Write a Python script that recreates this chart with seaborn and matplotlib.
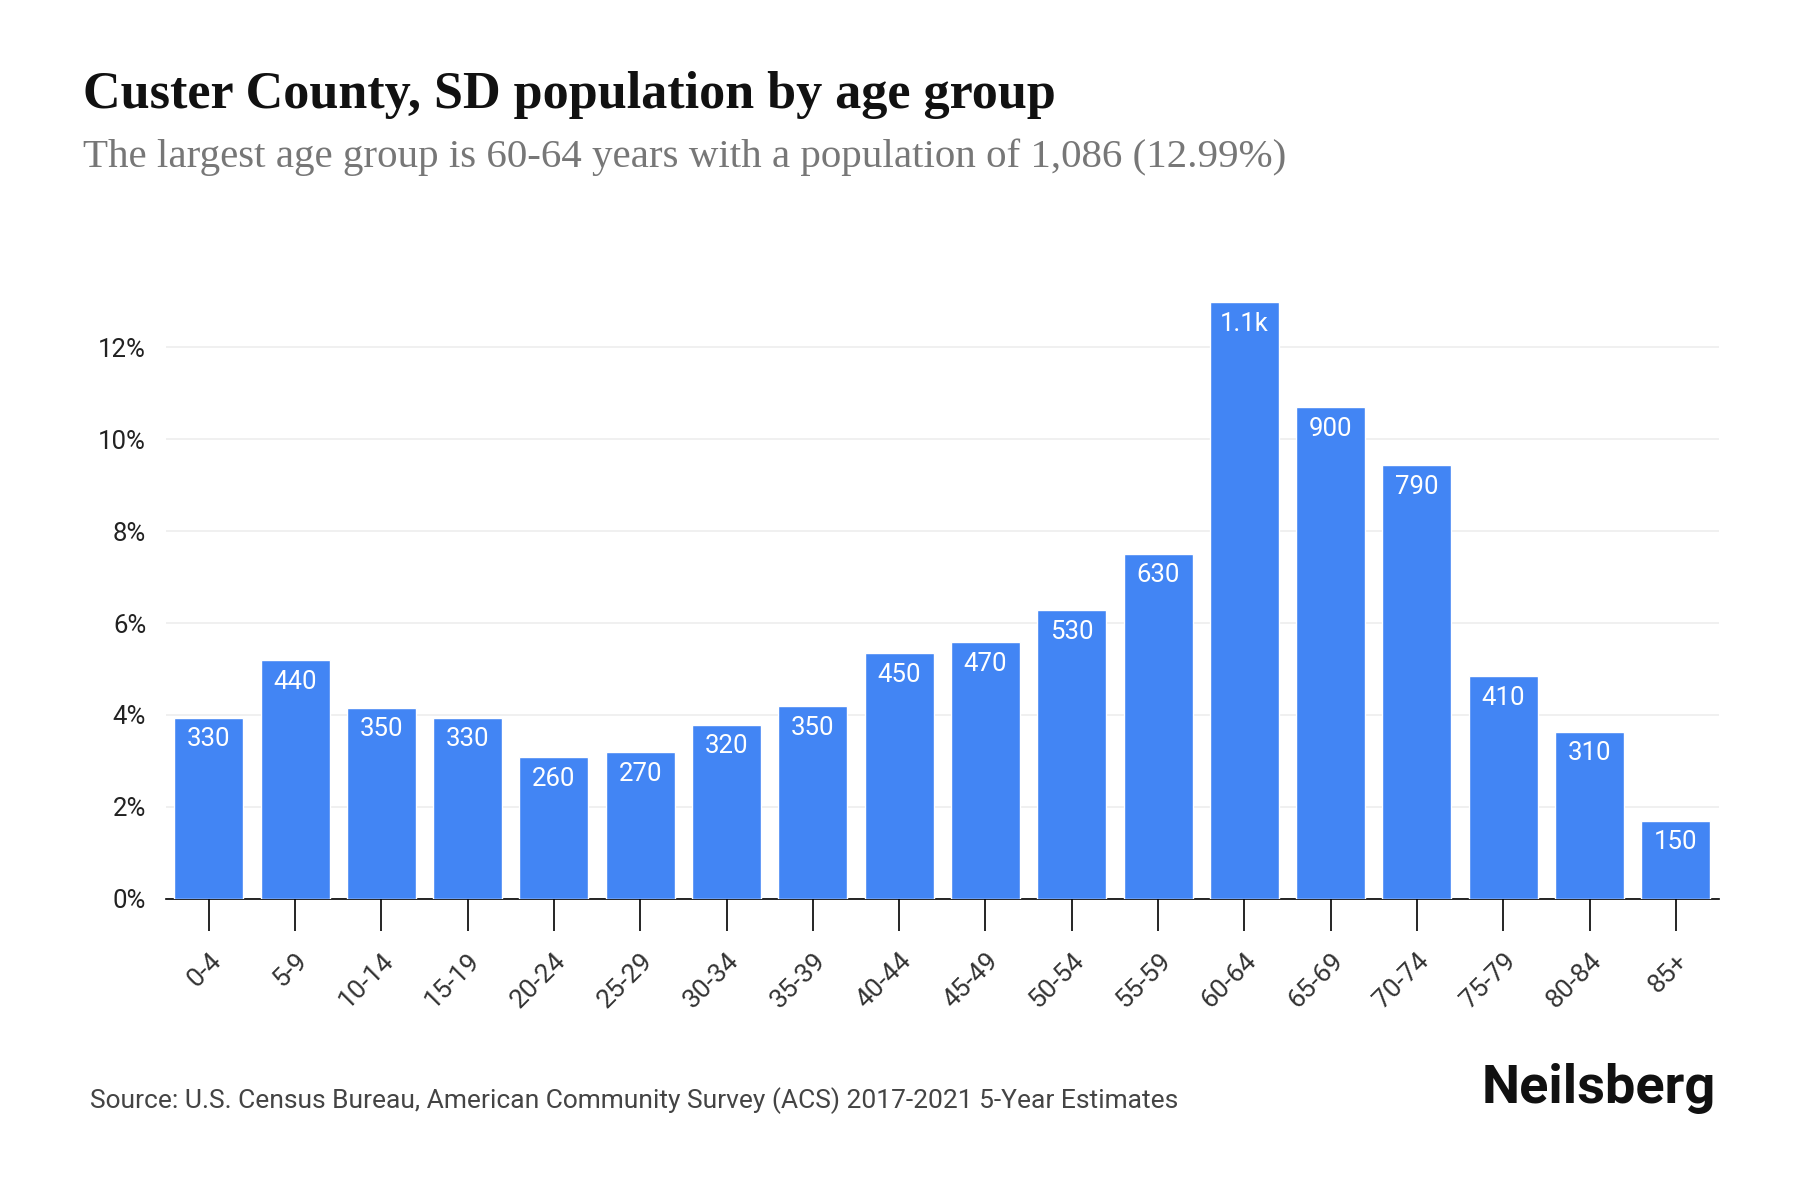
import matplotlib
matplotlib.use("Agg")
import matplotlib.pyplot as plt
import seaborn as sns
import pandas as pd

age_groups = ["0-4", "5-9", "10-14", "15-19", "20-24", "25-29", "30-34", "35-39",
              "40-44", "45-49", "50-54", "55-59", "60-64", "65-69", "70-74",
              "75-79", "80-84", "85+"]
percent = [3.94, 5.19, 4.16, 3.94, 3.09, 3.19, 3.79, 4.19, 5.34, 5.59, 6.28,
           7.51, 12.99, 10.70, 9.43, 4.84, 3.64, 1.70]
bar_labels = ["330", "440", "350", "330", "260", "270", "320", "350", "450",
              "470", "530", "630", "1.1k", "900", "790", "410", "310", "150"]
y_ticks = [0, 2, 4, 6, 8, 10, 12]

title = "Custer County, SD population by age group"
subtitle = "The largest age group is 60-64 years with a population of 1,086 (12.99%)"
source = "Source: U.S. Census Bureau, American Community Survey (ACS) 2017-2021 5-Year Estimates"

df = pd.DataFrame({"age": age_groups, "pct": percent})

sns.set_theme(style="white")
plt.rcParams["font.family"] = ["Roboto", "DejaVu Sans"]

fig = plt.figure(figsize=(18, 12), dpi=100)
ax = fig.add_axes([0.092, 0.251, 0.863, 0.517])

sns.barplot(data=df, x="age", y="pct", color="#4285F4", saturation=1,
            width=0.8, ax=ax, zorder=3)

ax.set_xlim(-0.5, 17.5)
ax.set_ylim(0, 13.5)
ax.set_yticks(y_ticks)
ax.set_yticklabels([f"{t}%" for t in y_ticks], fontsize=18.5, color="#222222")
ax.yaxis.grid(True, color="#eeeeee", linewidth=1.2, zorder=0)
ax.xaxis.grid(False)
ax.set_xlabel("")
ax.set_ylabel("")
for s in ["top", "right", "left"]:
    ax.spines[s].set_visible(False)
ax.spines["bottom"].set_color("#000000")
ax.spines["bottom"].set_linewidth(1.2)
ax.tick_params(axis="y", left=False, length=0, pad=14)
ax.tick_params(axis="x", bottom=True, length=23, width=1.2, color="#000000",
               pad=13, labelsize=19, labelcolor="#222222")
for lbl in ax.get_xticklabels():
    lbl.set_rotation(45)
    lbl.set_ha("right")
    lbl.set_va("top")
    lbl.set_rotation_mode("anchor")
    lbl.set_fontweight("normal")
    lbl.set_color("#333333")

for i, (v, t) in enumerate(zip(percent, bar_labels)):
    ax.annotate(t, xy=(i, v), xytext=(0, -7), textcoords="offset points",
                ha="center", va="top", color="white", fontsize=18.5, zorder=4)

fig.text(0.046, 0.921, title, fontsize=37.5, fontweight="bold",
         family=["Liberation Serif", "DejaVu Serif"], color="#111111",
         ha="left", va="center")
fig.text(0.046, 0.869, subtitle, fontsize=29.5,
         family=["Liberation Serif", "DejaVu Serif"], color="#777777",
         ha="left", va="center")
fig.text(0.05, 0.083, source, fontsize=19, color="#444444", ha="left", va="center")
fig.text(0.953, 0.093, "Neilsberg", fontsize=39, fontweight="bold",
         color="#111111", ha="right", va="center")

fig.savefig("out.png", dpi=100, facecolor="white")
